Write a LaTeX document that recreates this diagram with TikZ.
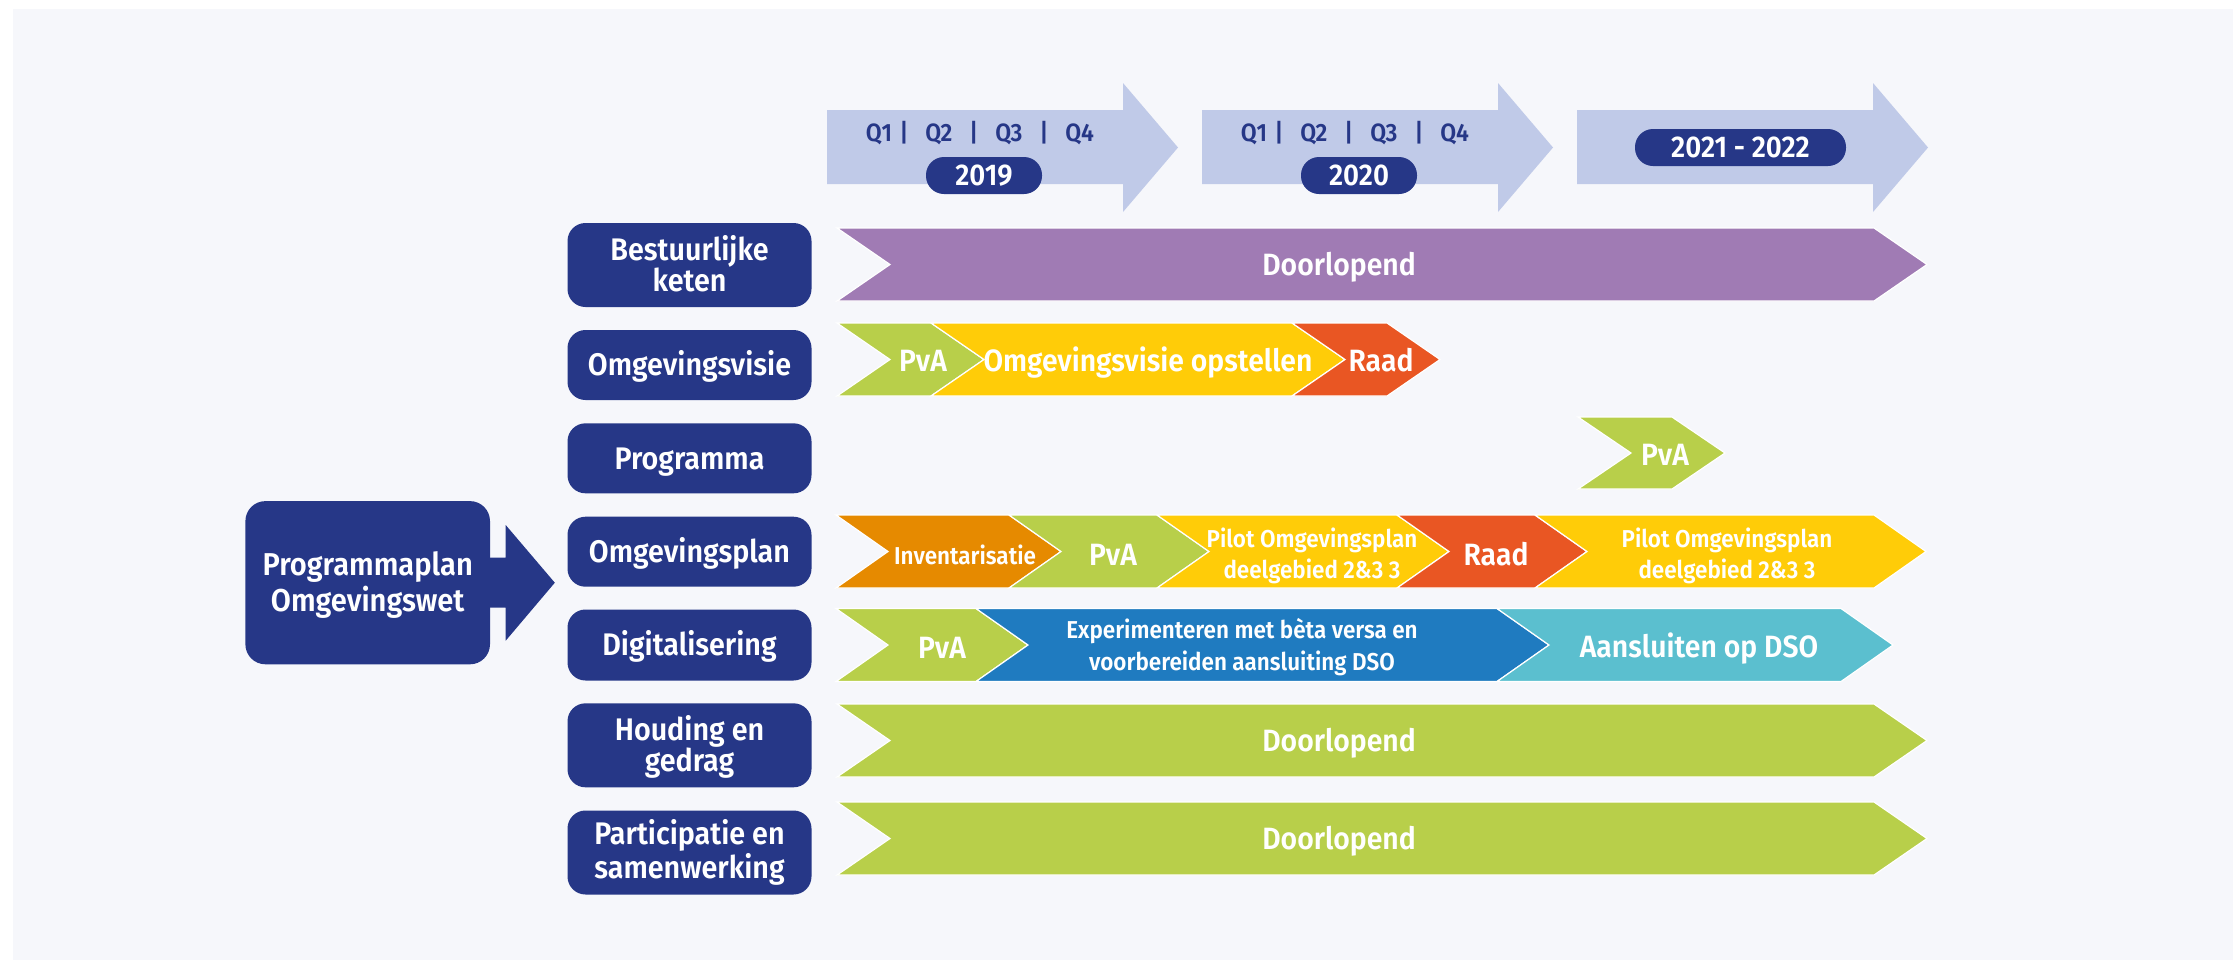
\documentclass[tikz,border=0pt]{standalone}
\usepackage{fontspec}
\IfFontExistsTF{Fira Sans SemiBold}
  {\setmainfont{Fira Sans SemiBold}[FakeStretch=0.92]\newcommand\lblwt{}}
  {\IfFontExistsTF{Fira Sans Medium}
    {\setmainfont{Fira Sans Medium}[FakeStretch=0.92]\newcommand\lblwt{}}
    {\setmainfont{Fira Sans}[FakeStretch=0.92]\newcommand\lblwt{\bfseries}}}
\definecolor{navy}{RGB}{38,55,135}
\definecolor{tlblue}{RGB}{192,202,232}
\definecolor{panel}{RGB}{246,247,251}
\definecolor{cpurple}{RGB}{160,123,180}
\definecolor{cgreen}{RGB}{184,207,74}
\definecolor{cyellow}{RGB}{255,204,8}
\definecolor{cred}{RGB}{233,86,35}
\definecolor{corange}{RGB}{230,138,0}
\definecolor{cblue}{RGB}{31,123,192}
\definecolor{ccyan}{RGB}{91,191,207}
\newcommand\chevseg[6]{\filldraw[seg,fill=#5] (#1,#3) -- (#2,#3) -- ({#2+#6},{(#3+#4)/2}) -- (#2,#4) -- (#1,#4) -- ({#1+#6},{(#3+#4)/2}) -- cycle;}
\tikzset{
  lbl/.style={fill=navy,text=white,rounded corners=9pt,minimum width=122pt,inner sep=0pt,align=center,
    text height=10.75pt,text depth=0pt,font=\lblwt\fontsize{15.6}{15.3}\selectfont},
  lbltwo/.style={lbl,text height=26.05pt,text depth=0pt},
  seg/.style={draw=white,line width=0.6pt},
  st/.style={text=white,inner sep=0pt,align=center,text height=10.6pt,text depth=0pt,
    font=\lblwt\fontsize{15.4}{15}\selectfont},
  sts/.style={st,text height=23.9pt,text depth=0pt,font=\lblwt\fontsize{12.2}{15.5}\selectfont},
  stxs/.style={st,text height=8.4pt,font=\lblwt\fontsize{12.2}{14}\selectfont},
  qtxt/.style={text=navy,inner sep=0pt,text height=8.6pt,text depth=0pt,font=\lblwt\fontsize{12.5}{14}\selectfont},
  pill/.style={fill=navy,text=white,rounded corners=9pt,inner sep=0pt,minimum height=18.5pt,
    text height=10.3pt,text depth=0pt,font=\lblwt\fontsize{15}{15}\selectfont},
  tl/.style={fill=tlblue},
}
\newcommand\qline{Q1\hspace{0.3em}|\hspace{0.68em}Q2\hspace{0.68em}|\hspace{0.68em}Q3\hspace{0.68em}|\hspace{0.68em}Q4}
\begin{document}
\begin{tikzpicture}[x=0.5pt,y=-0.5pt]
\useasboundingbox (0,0) rectangle (2233,960);
\fill[white] (0,0) rectangle (2233,960);
\fill[panel] (13,9) rectangle (2233,960);

% timeline arrows
\fill[tl] (827,110) -- (1123,110) -- (1123,83) -- (1178,147.5) -- (1123,212) -- (1123,184) -- (827,184) -- cycle;
\fill[tl] (1202,110) -- (1498,110) -- (1498,83) -- (1553,147.5) -- (1498,212) -- (1498,184) -- (1202,184) -- cycle;
\fill[tl] (1577,110) -- (1873,110) -- (1873,83) -- (1928,147.5) -- (1873,212) -- (1873,184) -- (1577,184) -- cycle;
\node[qtxt] (q19) at (980,133) {\qline};
\node[qtxt] (q20) at (1355,133) {\qline};
\node[pill,minimum width=58pt] (y19) at (984,175.5) {2019};
\node[pill,minimum width=58pt] (y20) at (1359,175.5) {2020};
\node[pill,minimum width=105.5pt] (y21) at (1740.5,147.5) {2021 - 2022};

% programmaplan
\node[lbl,minimum width=122.3pt,minimum height=81.6pt,rounded corners=10pt,
  font=\lblwt\fontsize{15.8}{18}\selectfont,text height=28.9pt,text depth=0pt] (pp) at (367.7,582.7) {Programmaplan\\Omgevingswet};
\fill[navy] (480,557.7) -- (505.7,557.7) -- (505.7,525) -- (554.8,582.7) -- (505.7,640.7) -- (505.7,607.7) -- (480,607.7) -- cycle;

% row labels
\node[lbltwo,minimum height=42pt] (bk) at (689.5,265) {Bestuurlijke\\keten};
\node[lbl,minimum height=35pt] (ov) at (689.5,365) {Omgevingsvisie};
\node[lbl,minimum height=35pt] (pg) at (689.5,458.3) {Programma};
\node[lbl,minimum height=35pt] (op) at (689.5,551.7) {Omgevingsplan};
\node[lbl,minimum height=35.5pt] (dg) at (689.5,645) {Digitalisering};
\node[lbltwo,minimum height=42pt] (hg) at (689.5,745.3) {Houding en\\gedrag};
\node[lbltwo,minimum height=42pt] (pt) at (689.5,852.5) {Participatie en\\samenwerking};

% bars
\chevseg{837}{1874}{228}{301}{cpurple}{53}
\node[st] (bkt) at (1339,264.5) {Doorlopend};

\chevseg{837}{931}{323}{396}{cgreen}{53}
\chevseg{931}{1292}{323}{396}{cyellow}{53}
\chevseg{1292}{1387}{323}{396}{cred}{53}
\node[st] (ov1) at (923,361) {PvA};
\node[st] (ov2) at (1148,361) {Omgevingsvisie opstellen};
\node[st] (ov3) at (1381,361) {Raad};

\chevseg{1578}{1672}{417}{489}{cgreen}{53}
\node[st] (pg1) at (1665,455) {PvA};

\chevseg{836}{1009}{515}{588}{corange}{52}
\chevseg{1009}{1157}{515}{588}{cgreen}{52}
\chevseg{1157}{1397}{515}{588}{cyellow}{52}
\chevseg{1397}{1535}{515}{588}{cred}{52}
\chevseg{1535}{1874}{515}{588}{cyellow}{52}
\node[stxs] (op1) at (965,556) {Inventarisatie};
\node[st] (op2) at (1113,555) {PvA};
\node[sts] (op3) at (1312,555) {Pilot Omgevingsplan\\deelgebied 2\&3 3};
\node[st] (op4) at (1496,555) {Raad};
\node[sts] (op5) at (1727,555) {Pilot Omgevingsplan\\deelgebied 2\&3 3};

\chevseg{836}{976}{608.5}{681.5}{cgreen}{52}
\chevseg{976}{1497}{608.5}{681.5}{cblue}{52}
\chevseg{1497}{1841}{608.5}{681.5}{ccyan}{52}
\node[st] (dg1) at (942,648) {PvA};
\node[sts,text height=24.4pt,font=\lblwt\fontsize{12.2}{16}\selectfont] (dg2) at (1242,646) {Experimenteren met bèta versa en\\voorbereiden aansluiting DSO};
\node[st] (dg3) at (1699,646.5) {Aansluiten op DSO};

\chevseg{837}{1874}{704}{777}{cgreen}{53}
\node[st] (hgt) at (1339,740.5) {Doorlopend};
\chevseg{837}{1874}{802}{875}{cgreen}{53}
\node[st] (ptt) at (1339,838.5) {Doorlopend};
\end{tikzpicture}
\end{document}
